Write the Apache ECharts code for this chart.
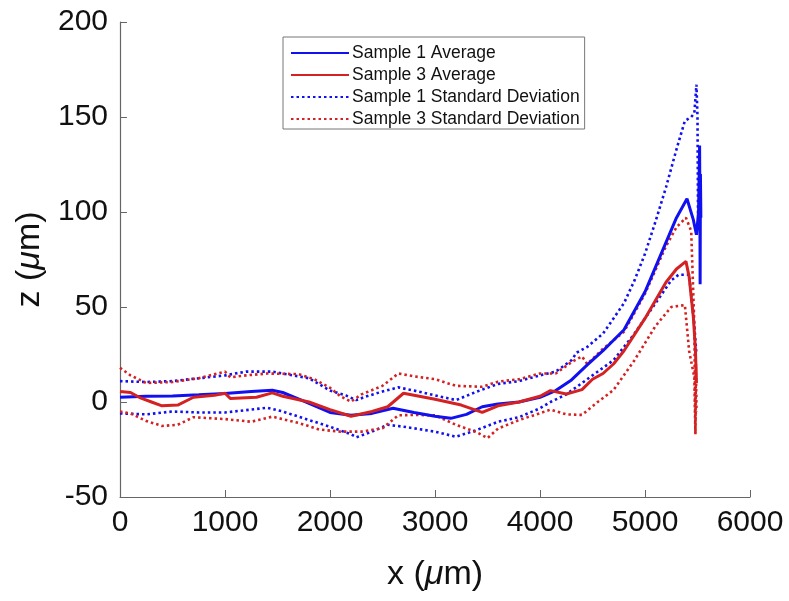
<!DOCTYPE html>
<html>
<head>
<meta charset="utf-8">
<script src="https://cdn.jsdelivr.net/npm/echarts@6/dist/echarts.min.js"></script>
<style>
  html, body { margin: 0; padding: 0; background: #fff; }
  #main { width: 789px; height: 601px; }
</style>
</head>
<body>
<div id="main"></div>
<script>
// x positions (um) and z values (um)
var s1AvgX = [0, 250, 500, 750, 1000, 1250, 1450, 1550, 1750, 2000, 2200, 2400, 2600, 2800, 3000, 3150, 3300, 3450, 3600, 3800, 4000, 4150, 4300, 4450, 4600, 4800, 5000, 5200, 5300, 5400, 5460, 5490, 5510, 5520, 5522, 5525, 5528, 5532];
var s1AvgZ = [2.5, 3, 3.2, 3.8, 4.5, 5.5, 6.2, 5, 0.5, -5.5, -7, -6, -3.3, -5.5, -7.5, -8.6, -6.5, -2.5, -1, 0, 2.5, 6, 11.6, 19.5, 27, 38, 58, 84, 97, 107, 96, 88, 100, 135, 115, 62, 120, 97];

var s3AvgX = [0, 100, 200, 300, 400, 550, 700, 900, 1000, 1050, 1300, 1450, 1550, 1800, 2000, 2200, 2400, 2550, 2700, 3000, 3250, 3450, 3600, 3800, 4000, 4100, 4250, 4400, 4500, 4600, 4700, 4800, 5000, 5200, 5300, 5390, 5420, 5460, 5480, 5490];
var s3AvgZ = [5.5, 5, 2, 0, -2, -1.6, 2.5, 3.5, 4.6, 1.9, 2.5, 4.8, 3, 0, -4, -7.5, -5, -2.5, 4.6, 1.4, -1.6, -5.5, -2, 0, 3, 6, 4.2, 6.5, 12, 15, 20, 27, 44, 63, 70, 74, 66, 45, 28, 10];

var s1UpX = [0, 250, 500, 750, 1000, 1200, 1450, 1650, 1800, 2000, 2150, 2250, 2350, 2500, 2650, 2800, 3000, 3200, 3400, 3600, 3800, 4000, 4150, 4300, 4350, 4450, 4600, 4800, 4900, 5000, 5100, 5200, 5300, 5380, 5440, 5470, 5490, 5500, 5505];
var s1UpZ = [11, 10.5, 11, 12.5, 14, 16, 16, 14, 12.5, 6, 3.5, 1, 3, 5.5, 7.7, 6, 3.5, 1, 5.5, 9.5, 11, 14, 16, 22, 26, 29, 36, 52, 64, 78, 95, 113, 133, 148, 150, 152, 167, 150, 98];

var s1LoX = [0, 250, 500, 750, 1000, 1250, 1400, 1550, 1750, 2000, 2200, 2250, 2400, 2550, 2700, 3000, 3200, 3400, 3600, 3800, 4000, 4100, 4250, 4500, 4700, 4900, 5100, 5250, 5320, 5420, 5470, 5490];
var s1LoZ = [-6, -6.5, -5, -5.5, -5.5, -4, -3, -5, -8.6, -13, -17, -18.6, -15.6, -12, -13, -15.6, -18.3, -14.7, -10.4, -8, -3.3, 0, 4, 14, 22, 36, 52, 64, 67, 67, 40, 25];

var s3UpX = [0, 100, 250, 500, 750, 1000, 1050, 1200, 1400, 1700, 1850, 2000, 2100, 2200, 2300, 2500, 2650, 2800, 3000, 3200, 3450, 3600, 3800, 4000, 4150, 4300, 4400, 4450, 4600, 4800, 5000, 5200, 5300, 5390, 5440, 5470, 5480, 5485, 5490];
var s3UpZ = [18, 14, 10, 10.5, 12.5, 16, 13, 14, 15, 14.7, 12, 7.5, 3, 0.2, 4, 8.5, 15, 13.5, 12, 8.5, 8, 10.7, 12, 15, 15, 21, 24, 20, 28, 37, 57, 82, 92, 97, 90, 40, -17, 20, -5];

var s3LoX = [0, 100, 250, 400, 550, 700, 1000, 1250, 1450, 1700, 1900, 2100, 2300, 2500, 2650, 2800, 3000, 3200, 3400, 3500, 3600, 3800, 3950, 4100, 4250, 4400, 4550, 4700, 4900, 5100, 5250, 5380, 5420, 5470, 5480, 5485];
var s3LoZ = [-5, -6, -10, -12.6, -12, -8, -9, -10.4, -7.7, -11, -14.5, -15.6, -15.6, -13.8, -7, -6.8, -7, -12, -16, -19, -14, -9.5, -6.8, -4, -6.5, -6.8, 0, 6.3, 22, 40, 50, 51, 27, 13, -17, 5];

var seriesNames = ['Sample 1 Average', 'Sample 3 Average', 'Sample 1 Standard Deviation', 'Sample 3 Standard Deviation'];

var BLUE = '#1010f0';
var RED = '#d42222';

function pairs(xs, zs) {
  return xs.map(function (x, i) { return [x, zs[i]]; });
}

function lineSeries(name, xs, zs, color, dotted) {
  return {
    name: name,
    type: 'line',
    data: pairs(xs, zs),
    showSymbol: false,
    symbol: 'none',
    animation: false,
    lineStyle: {
      color: color,
      width: dotted ? 2.6 : 3,
      type: dotted ? [2.5, 3] : 'solid'
    },
    itemStyle: { color: color }
  };
}

var axisName = {
  fontFamily: 'Liberation Sans',
  fontSize: 34,
  color: '#111',
  rich: { mu: { fontFamily: 'Liberation Sans', fontSize: 34, fontStyle: 'italic', color: '#111' } }
};

var myChart = echarts.init(document.getElementById('main'));
var option = {
  backgroundColor: '#fff',
  animation: false,
  grid: { left: 120, right: 39, top: 22, bottom: 104, containLabel: false },
  legend: {
    orient: 'vertical',
    left: 283,
    top: 37,
    padding: [7, 5, 1, 7],
    itemWidth: 58,
    itemHeight: 14,
    itemGap: 4,
    backgroundColor: '#fff',
    borderColor: '#777',
    borderWidth: 1,
    borderRadius: 0,
    itemStyle: { opacity: 0 },
    textStyle: { fontFamily: 'Liberation Sans', fontSize: 17.5, lineHeight: 16, color: '#111', padding: [0, 0, 0, -2] },
    data: seriesNames
  },
  xAxis: {
    type: 'value',
    min: 0,
    max: 6000,
    interval: 1000,
    name: 'x ({mu|μ}m)',
    nameLocation: 'middle',
    nameGap: 61,
    nameTextStyle: axisName,
    axisLine: { show: true, onZero: false, lineStyle: { color: '#666', width: 1.2 } },
    axisTick: { show: true, inside: true, length: 7, lineStyle: { color: '#666' } },
    axisLabel: {
      fontFamily: 'Liberation Sans', fontSize: 30, color: '#111', margin: 11,
      formatter: function (v) { return String(v); }
    },
    splitLine: { show: false }
  },
  yAxis: {
    type: 'value',
    min: -50,
    max: 200,
    interval: 50,
    name: 'z ({mu|μ}m)',
    nameLocation: 'middle',
    nameGap: 70,
    nameRotate: 90,
    nameTextStyle: axisName,
    axisLine: { show: true, onZero: false, lineStyle: { color: '#666', width: 1.2 } },
    axisTick: { show: true, inside: true, length: 7, lineStyle: { color: '#666' } },
    axisLabel: {
      fontFamily: 'Liberation Sans', fontSize: 30, color: '#111', margin: 12,
      formatter: function (v) { return String(v); }
    },
    splitLine: { show: false }
  },
  series: [
    lineSeries(seriesNames[2], s1UpX, s1UpZ, BLUE, true),
    lineSeries(seriesNames[2], s1LoX, s1LoZ, BLUE, true),
    lineSeries(seriesNames[3], s3UpX, s3UpZ, RED, true),
    lineSeries(seriesNames[3], s3LoX, s3LoZ, RED, true),
    lineSeries(seriesNames[0], s1AvgX, s1AvgZ, BLUE, false),
    lineSeries(seriesNames[1], s3AvgX, s3AvgZ, RED, false)
  ]
};

myChart.setOption(option);
</script>
</body>
</html>
